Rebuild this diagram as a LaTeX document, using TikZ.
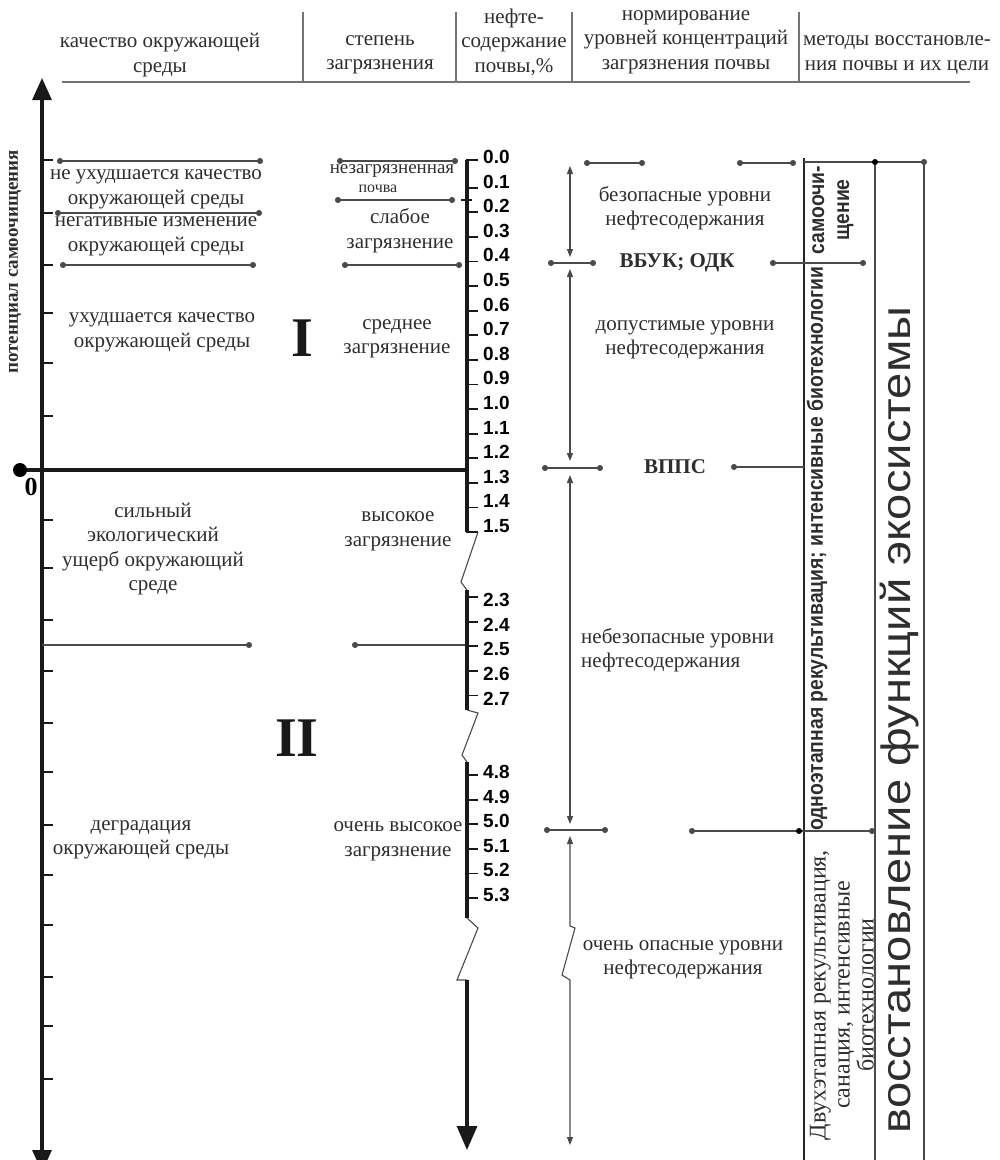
\documentclass[tikz,border=0pt]{standalone}
\usepackage{fontspec}
\setmainfont{Liberation Serif}
\newfontfamily\sansf{Liberation Sans}
\newfontfamily\sanswide{Liberation Sans}[FakeStretch=1.15]
\newfontfamily\sansnarrow{Liberation Sans}[FakeStretch=0.88]
\usetikzlibrary{arrows.meta}
\definecolor{txtc}{HTML}{2E2E2E}
\definecolor{lnc}{HTML}{4A4A4A}
\begin{document}
\begin{tikzpicture}[x=1pt,y=-1pt,
  txt/.style={font=\fontsize{21}{24.5}\selectfont, text=txtc, align=center, inner sep=0pt},
  btxt/.style={font=\bfseries\fontsize{21}{24.5}\selectfont, text=txtc, align=center, inner sep=0pt},
  rtxt/.style={font=\fontsize{24}{24}\selectfont, text=txtc, align=center, inner sep=0pt, rotate=90},
  ntxt/.style={font=\sansnarrow\bfseries\fontsize{22}{25}\selectfont, text=txtc, align=center, inner sep=0pt, rotate=90},
  roman/.style={font=\bfseries\fontsize{56}{56}\selectfont, text=black!90, inner sep=0pt},
  num/.style={font=\sansf\bfseries\fontsize{19}{20}\selectfont, inner sep=0pt, anchor=west, text=black},
  thinln/.style={line width=1.1pt, draw=lnc},
  hdrln/.style={line width=1.3pt, draw=black!55},
  dl/.style={thinln, {Circle[length=6pt]}-{Circle[length=6pt]}},
  dlr/.style={thinln, -{Circle[length=6pt]}},
  dll/.style={thinln, {Circle[length=6pt]}-},
  biarr/.style={thinln, {Triangle[length=8pt,width=6pt]}-{Triangle[length=8pt,width=6pt]}},
  axisln/.style={line width=3.2pt, draw=black!90},
  tickln/.style={line width=1.8pt, draw=black!90},
  dotc/.style={fill=black, circle, inner sep=0pt, minimum size=6pt},
]
\useasboundingbox (0,0) rectangle (1000,1160);
\clip (0,0) rectangle (1000,1160);

% ---------- header ----------
\coordinate (hl) at (62,82); \coordinate (hr) at (970,82);
\draw[hdrln] (hl) -- (hr);
\foreach \x in {303,456,572,799} \draw[hdrln] (\x,12) -- (\x,82);
\node[txt] (hA) at (160,55) {качество окружающей\\среды};
\node[txt] (hB) at (380,55) {степень\\загрязнения};
\node[txt] (hC) at (514,42) {нефте-\\содержание\\почвы,\%};
\node[txt] (hD) at (686,42) {нормирование\\уровней концентраций\\загрязнения почвы};
\node[txt] (hE) at (897,55) {методы восстановле-\\ния почвы и их цели};

% ---------- left axis ----------
\coordinate (La) at (42,1172); \coordinate (Lb) at (42,78);
\draw[axisln, {Triangle[length=22pt,width=19pt]}-{Triangle[length=22pt,width=19pt]}] (La) -- (Lb);
\foreach \y in {160,213,265,313,363,416,520,568,620,671,723,772,825,875,925,977,1026,1079}
  \draw[tickln] (42,\y) -- (53,\y);
\node[rotate=90, font=\bfseries\fontsize{19}{20}\selectfont, text=txtc, inner sep=0pt] (pot) at (15,262) {потенциал самоочищения};

% zero line
\coordinate (z0) at (20,470); \coordinate (z1) at (467,470);
\draw[line width=3.5pt, black!90] (z0) -- (z1);
\fill[black] (z0) circle (7);
\node[font=\bfseries\fontsize{26}{26}\selectfont, inner sep=0pt] (zero) at (31,487) {0};

% ---------- left column texts & lines ----------
\coordinate (a1) at (57,161); \coordinate (a2) at (263,161); \draw[dl] (a1) -- (a2);
\node[txt] (t1) at (156,189.5) {не ухудшается качество\\окружающей среды};
\coordinate (b1) at (55,213); \coordinate (b2) at (262,213); \draw[dl] (b1) -- (b2);
\node[txt] (t2) at (156,236.5) {негативные изменение\\окружающей среды};
\coordinate (c1) at (60,265); \coordinate (c2) at (256,265); \draw[dl] (c1) -- (c2);
\node[txt] (t3) at (162,332.5) {ухудшается качество\\окружающей среды};
\node[roman] (rI) at (302,338) {I};
\node[txt] (t4) at (153,549) {сильный\\экологический\\ущерб окружающий\\среде};
\coordinate (d1) at (42,645); \coordinate (d2) at (252,645); \draw[dlr] (d1) -- (d2);
\node[roman] (rII) at (297,738) {II};
\node[txt] (t5) at (141,840) {деградация\\окружающей среды};

% ---------- pollution degree column ----------
\coordinate (e1) at (337,161); \coordinate (e2) at (458,161); \draw[dl] (e1) -- (e2);
\node[txt, font=\fontsize{19}{20}\selectfont] (p1) at (392,171) {незагрязненная};
\node[txt, font=\fontsize{16}{18}\selectfont] (p1b) at (378,189) {почва};
\coordinate (f1) at (335,200); \coordinate (f2) at (455,200); \draw[dl] (f1) -- (f2);
\coordinate (f3) at (461,200); \coordinate (f4) at (472,200); \draw[tickln] (f3) -- (f4);
\node[txt] (p2) at (400,230.5) {слабое\\загрязнение};
\coordinate (g1) at (342,265); \coordinate (g2) at (462,265); \draw[dl] (g1) -- (g2);
\node[txt] (p3) at (397,339) {среднее\\загрязнение};
\node[txt] (p4) at (398,531.5) {высокое\\загрязнение};
\coordinate (k1) at (352,645); \coordinate (k2) at (467,645); \draw[dll] (k1) -- (k2);
\node[txt] (p5) at (398,841.5) {очень высокое\\загрязнение};

% ---------- oil content scale ----------
\draw[axisln] (467,160) -- (467,532);
\draw[tickln] (466,160) -- (478,160);
\draw[tickln] (466,532) -- (478,532);
\foreach \i in {1,...,14} \draw[tickln] (467,{163+24.6*\i}) -- (478,{163+24.6*\i});
\foreach \lab [count=\i from 0] in {0.0,0.1,0.2,0.3,0.4,0.5,0.6,0.7,0.8,0.9,1.0,1.1,1.2,1.3,1.4,1.5}
  \node[num] (sa\i) at (483,{157+24.6*\i}) {\lab};
\draw[thinln] (478,532) -- (461,582) -- (467,590);
\draw[axisln] (467,590) -- (467,710);
\foreach \i in {0,...,4} \draw[tickln] (467,{597+24.6*\i}) -- (478,{597+24.6*\i});
\foreach \lab [count=\i from 0] in {2.3,2.4,2.5,2.6,2.7}
  \node[num] (sb\i) at (483,{600+24.6*\i}) {\lab};
\draw[thinln] (467,710) -- (478,713) -- (462,755) -- (467,762);
\draw[axisln] (467,762) -- (467,918);
\foreach \i in {0,...,5} \draw[tickln] (467,{775+24.6*\i}) -- (478,{775+24.6*\i});
\foreach \lab [count=\i from 0] in {4.8,4.9,5.0,5.1,5.2,5.3}
  \node[num] (sc\i) at (483,{772+24.6*\i}) {\lab};
\draw[thinln] (467,918) -- (478,928) -- (457,980) -- (467,980);
\coordinate (sx0) at (467,980); \coordinate (sx1) at (467,1150);
\draw[axisln, -{Triangle[length=24pt,width=20pt]}] (sx0) -- (sx1);

% ---------- norming column ----------
\coordinate (t1a) at (584,163); \coordinate (t1b) at (645,163); \draw[dl] (t1a) -- (t1b);
\coordinate (t2a) at (737,163); \coordinate (t2b) at (796,163); \draw[dl] (t2a) -- (t2b);
\coordinate (n1a) at (570,166); \coordinate (n1b) at (570,257); \draw[biarr] (n1a) -- (n1b);
\coordinate (n2a) at (570,269); \coordinate (n2b) at (570,461); \draw[biarr] (n2a) -- (n2b);
\coordinate (n3a) at (570,475); \coordinate (n3b) at (570,824); \draw[biarr] (n3a) -- (n3b);
\coordinate (n4a) at (570,836); \coordinate (n4b) at (570,1145);
\draw[biarr] (n4a) -- (570,926) -- (575,928) -- (562,975) -- (570,980) -- (n4b);
\coordinate (m1a) at (548,263); \coordinate (m1b) at (596,263); \draw[dl] (m1a) -- (m1b);
\coordinate (m2a) at (542,468); \coordinate (m2b) at (603,468); \draw[dl] (m2a) -- (m2b);
\coordinate (m3a) at (544,830); \coordinate (m3b) at (608,830); \draw[dl] (m3a) -- (m3b);
\node[txt] (q1) at (685,208) {безопасные уровни\\нефтесодержания};
\node[btxt] (vbuk) at (677,263) {ВБУК; ОДК};
\node[txt] (q2) at (685,340) {допустимые уровни\\нефтесодержания};
\node[btxt] (vpps) at (675,467) {ВППС};
\node[txt, align=left, anchor=west] (q3) at (581,650) {небезопасные уровни\\нефтесодержания};
\node[txt] (q4) at (683,960) {очень опасные уровни\\нефтесодержания};

% ---------- methods columns ----------
\coordinate (c804a) at (804,158); \coordinate (c804b) at (804,1160);
\draw[line width=1.3pt, black!85] (c804a) -- (c804b);
\coordinate (c875a) at (875,162); \coordinate (c875b) at (875,1160);
\draw[thinln] (c875a) -- (c875b);
\coordinate (c924a) at (924,162); \coordinate (c924b) at (924,1160);
\draw[thinln] (c924a) -- (c924b);
\coordinate (r0) at (804,162); \coordinate (r2) at (927,162);
\draw[thinln, -{Circle[length=6pt]}] (r0) -- (r2);
\node[dotc] (r1) at (875,162) {};
\coordinate (v1) at (770,263); \coordinate (v2) at (866,263); \draw[dl] (v1) -- (v2);
\coordinate (w1) at (731,467); \coordinate (w2) at (804,467); \draw[dll] (w1) -- (w2);
\coordinate (u1) at (689,831); \coordinate (u3) at (875,831); \draw[dl] (u1) -- (u3);
\node[dotc] (u2) at (799,831) {};

\node[ntxt] (self) at (833,210) {самоочи-\\щение};
\node[ntxt] (one) at (817,549) {одноэтапная рекультивация; интенсивные биотехнологии};
\node[rtxt] (two) at (842,995) {Двухэтапная рекультивация,\\санация, интенсивные\\биотехнологии};
\node[rotate=90, font=\sanswide\fontsize{41}{41}\selectfont, text=txtc, inner sep=0pt] (rest) at (900,720) {восстановление функций экосистемы};
\end{tikzpicture}
\end{document}
